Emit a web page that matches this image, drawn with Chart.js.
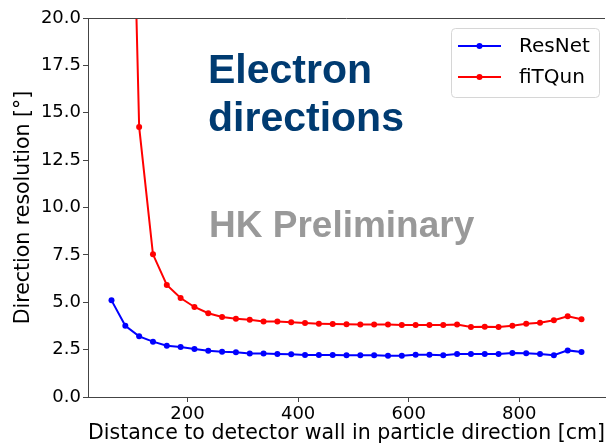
<!DOCTYPE html>
<html>
<head>
<meta charset="utf-8">
<script src="https://cdn.jsdelivr.net/npm/chart.js@4/dist/chart.umd.min.js"></script>
<style>
  html, body { margin: 0; padding: 0; background: #fff; overflow: hidden; }
  #wrap { width: 608px; height: 444px; }
</style>
</head>
<body>
<div id="wrap"><canvas id="res_chart" width="608" height="444"></canvas></div>
<script>
// bin centres along the wall distance [cm]
const distances = [62.5, 87.5, 112.5, 137.5, 162.5, 187.5, 212.5, 237.5, 262.5, 287.5,
    312.5, 337.5, 362.5, 387.5, 412.5, 437.5, 462.5, 487.5, 512.5, 537.5,
    562.5, 587.5, 612.5, 637.5, 662.5, 687.5, 712.5, 737.5, 762.5, 787.5,
    812.5, 837.5, 862.5, 887.5, 912.5];

const resnet_values = [5.10, 3.76, 3.20, 2.92, 2.71, 2.64, 2.53, 2.44, 2.39, 2.36,
    2.30, 2.29, 2.27, 2.25, 2.22, 2.22, 2.22, 2.20, 2.20, 2.20,
    2.18, 2.18, 2.23, 2.23, 2.20, 2.27, 2.27, 2.27, 2.27, 2.32,
    2.31, 2.27, 2.20, 2.46, 2.37];

const fitqun_values = [80.0, 44.0, 14.25, 7.53, 5.91, 5.22, 4.75, 4.42, 4.22, 4.13,
    4.08, 3.99, 3.99, 3.94, 3.90, 3.87, 3.85, 3.84, 3.82, 3.82,
    3.82, 3.80, 3.80, 3.80, 3.80, 3.82, 3.69, 3.71, 3.69, 3.76,
    3.87, 3.92, 4.05, 4.26, 4.10];

const x_ticks = [200, 400, 600, 800];
const series_labels = ['ResNet', 'fiTQun'];
const series_colors = ['#0000ff', '#ff0000'];

const tick_font = { family: 'DejaVu Sans', size: 18 };

function toPoints(xs, ys){
    return xs.map(function(x, i){ return { x: x, y: ys[i] }; });
}

// top spine, legend box and the slide annotations
const extrasPlugin = {
    id: 'extras',
    afterDraw: function(chart){
        const ctx = chart.ctx;
        const area = chart.chartArea;
        ctx.save();

        // top spine
        ctx.strokeStyle = '#444';
        ctx.lineWidth = 1;
        ctx.beginPath();
        ctx.moveTo(area.left, area.top + 0.5);
        ctx.lineTo(area.right, area.top + 0.5);
        ctx.stroke();

        // legend
        const bx = 451, by = 28, bw = 148, bh = 69;
        ctx.fillStyle = 'rgba(255,255,255,0.8)';
        ctx.strokeStyle = '#d6d6d6';
        ctx.beginPath();
        ctx.roundRect(bx + 0.5, by + 0.5, bw, bh, 4);
        ctx.fill();
        ctx.stroke();
        chart.data.datasets.forEach(function(ds, i){
            const yy = 46 + i * 31;
            ctx.strokeStyle = ds.borderColor;
            ctx.lineWidth = 2;
            ctx.beginPath();
            ctx.moveTo(458, yy);
            ctx.lineTo(501, yy);
            ctx.stroke();
            ctx.fillStyle = ds.borderColor;
            ctx.beginPath();
            ctx.arc(479.5, yy, 3, 0, Math.PI * 2);
            ctx.fill();
            ctx.fillStyle = '#000';
            ctx.font = '20px "DejaVu Sans"';
            ctx.textBaseline = 'middle';
            ctx.textAlign = 'left';
            ctx.fillText(ds.label, 519, yy + 1);
        });

        // slide annotations
        ctx.textBaseline = 'alphabetic';
        ctx.fillStyle = '#003b71';
        ctx.font = 'bold 41px "Liberation Sans"';
        ctx.fillText('Electron', 208, 83);
        ctx.fillText('directions', 208, 131);
        ctx.fillStyle = '#999999';
        ctx.font = 'bold 37px "Liberation Sans"';
        ctx.fillText('HK Preliminary', 209, 237);

        ctx.restore();
    }
};

function initResolutionChart(){
    const ctx = document.getElementById('res_chart').getContext('2d');
    const datasets = [resnet_values, fitqun_values].map(function(vals, i){
        return {
            label: series_labels[i],
            data: toPoints(distances, vals),
            borderColor: series_colors[i],
            backgroundColor: series_colors[i],
            borderWidth: 2,
            pointRadius: 3,
            pointHoverRadius: 3,
            pointBorderWidth: 0,
            tension: 0
        };
    });

    var chart = new Chart(ctx, {
        type: 'line',
        data: { datasets: datasets },
        plugins: [extrasPlugin],
        options: {
            responsive: false,
            animation: false,
            layout: { padding: { top: 18, right: 0, left: 0, bottom: 0 } },
            plugins: {
                legend: { display: false },
                tooltip: { enabled: false }
            },
            scales: {
                x: {
                    type: 'linear',
                    min: 20,
                    max: 955,
                    afterBuildTicks: function(scale){
                        scale.ticks = x_ticks.map(function(v){ return { value: v }; });
                    },
                    afterFit: function(scale){ scale.height = 47; },
                    grid: { drawOnChartArea: false, color: '#444', tickLength: 5 },
                    border: { color: '#444' },
                    ticks: { font: tick_font, color: '#000', padding: 2, maxRotation: 0 },
                    title: {
                        display: true,
                        text: 'Distance to detector wall in particle direction [cm]',
                        font: { family: 'DejaVu Sans', size: 20.6, lineHeight: 1 },
                        color: '#000',
                        padding: { top: 0, bottom: 0 }
                    }
                },
                y: {
                    min: 0,
                    max: 20,
                    afterFit: function(scale){ scale.width = 88; },
                    grid: { drawOnChartArea: false, color: '#444', tickLength: 5 },
                    border: { color: '#444' },
                    ticks: {
                        stepSize: 2.5,
                        font: tick_font,
                        color: '#000',
                        padding: 2,
                        callback: function(v){ return v.toFixed(1); }
                    },
                    title: {
                        display: true,
                        text: 'Direction resolution [°]',
                        font: { family: 'DejaVu Sans', size: 20.5 },
                        color: '#000',
                        padding: { top: 11, bottom: 0 }
                    }
                }
            }
        }
    });
}

initResolutionChart();
</script>
</body>
</html>
